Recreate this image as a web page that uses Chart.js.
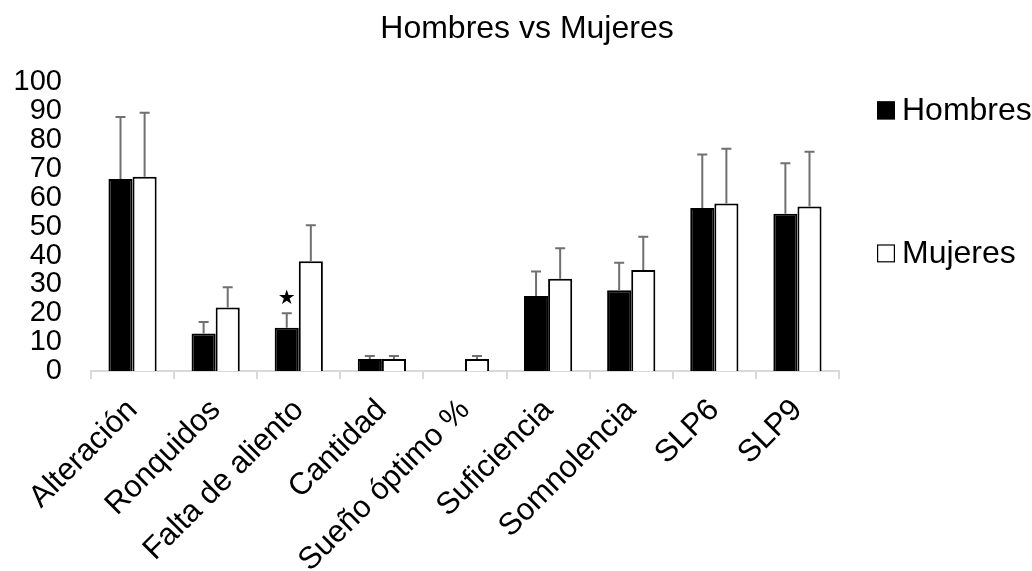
<!DOCTYPE html>
<html>
<head>
<meta charset="utf-8">
<script src="https://cdn.jsdelivr.net/npm/chart.js@4.4.1/dist/chart.umd.min.js"></script>
<style>
  html, body { margin: 0; padding: 0; background: #fff; }
  canvas { display: block; }
</style>
</head>
<body>
<canvas id="chart" width="1032" height="571"></canvas>
<script>
// Categories and series (means with upper standard deviation)
const categories = ['Alteración', 'Ronquidos', 'Falta de aliento', 'Cantidad', 'Sueño óptimo %',
                    'Suficiencia', 'Somnolencia', 'SLP6', 'SLP9'];
const hombres   = [66.5, 13, 15, 4.2, 0, 26, 28, 56.5, 54.5];
const hombresSD = [21.5, 4, 5, 1, 0, 8.5, 9.5, 18.5, 17.5];
const mujeres   = [67.3, 22, 38, 4.2, 4.2, 32, 35, 58, 57];
const mujeresSD = [22.2, 7, 12.5, 1, 1, 10.5, 11.5, 19, 19];
// Significance marks drawn above the Hombres error bar
const marks = ['', '', '★', '', '', '', '', '', ''];
const yTicks = [0, 10, 20, 30, 40, 50, 60, 70, 80, 90, 100];

const FONT = "'Liberation Sans', Arial, Helvetica, sans-serif";

Chart.defaults.font.family = FONT;
Chart.defaults.color = '#000';

// Upward error bars plus significance stars
const errorBars = {
  id: 'errorBars',
  afterDatasetsDraw(chart) {
    const ctx = chart.ctx;
    const y = chart.scales.y;
    const sds = [hombresSD, mujeresSD];
    ctx.save();
    ctx.strokeStyle = '#707070';
    ctx.lineWidth = 2;
    chart.data.datasets.forEach((ds, i) => {
      chart.getDatasetMeta(i).data.forEach((bar, j) => {
        const sd = sds[i][j];
        if (!sd) return;
        const base = y.getPixelForValue(ds.data[j]);
        const top = y.getPixelForValue(ds.data[j] + sd);
        ctx.beginPath();
        ctx.moveTo(bar.x, base);
        ctx.lineTo(bar.x, top);
        ctx.moveTo(bar.x - 5, top);
        ctx.lineTo(bar.x + 5, top);
        ctx.stroke();
      });
    });
    ctx.fillStyle = '#000';
    ctx.font = "20px 'DejaVu Sans', sans-serif";
    ctx.textAlign = 'center';
    ctx.textBaseline = 'middle';
    chart.getDatasetMeta(0).data.forEach((bar, j) => {
      if (!marks[j]) return;
      const top = y.getPixelForValue(hombres[j] + hombresSD[j]);
      ctx.fillText(marks[j], bar.x, top - 14);
    });
    ctx.restore();
  }
};

// Legend drawn at the right side of the plot
const sideLegend = {
  id: 'sideLegend',
  afterDraw(chart) {
    const ctx = chart.ctx;
    const area = chart.chartArea;
    const x0 = area.right + 38;
    const rows = [area.top + 28, area.top + 171];
    ctx.save();
    ctx.font = '32px ' + FONT;
    ctx.textBaseline = 'middle';
    ctx.textAlign = 'left';
    chart.data.datasets.forEach((ds, i) => {
      const cy = rows[i];
      ctx.fillStyle = ds.backgroundColor;
      ctx.fillRect(x0, cy - 9, 18, 18);
      ctx.strokeStyle = '#000';
      ctx.lineWidth = 1.2;
      ctx.strokeRect(x0 + 0.6, cy - 8.4, 16.8, 16.8);
      ctx.fillStyle = '#000';
      ctx.fillText(ds.label, x0 + 25, cy + 1);
    });
    ctx.restore();
  }
};

new Chart(document.getElementById('chart'), {
  type: 'bar',
  data: {
    labels: categories,
    datasets: [
      { label: 'Hombres', data: hombres, backgroundColor: '#000', borderColor: '#000', borderWidth: 2 },
      { label: 'Mujeres', data: mujeres, backgroundColor: '#fff', borderColor: '#000', borderWidth: 2 }
    ]
  },
  options: {
    responsive: false,
    animation: false,
    events: [],
    categoryPercentage: 0.58,
    barPercentage: 1,
    // the title block reaches a little past the right edge so its text sits right of centre
    layout: { padding: { left: 0, right: -22, top: 0, bottom: 0 } },
    plugins: {
      legend: { display: false },
      tooltip: { enabled: false },
      title: {
        display: true,
        text: 'Hombres vs Mujeres',
        font: { size: 32, weight: 'normal', lineHeight: 1.2 },
        color: '#000',
        padding: { top: 10, bottom: 34 }
      }
    },
    scales: {
      x: {
        grid: { display: true, offset: true, drawOnChartArea: false, color: '#d9d9d9', lineWidth: 2, tickLength: 8 },
        border: { display: true, color: '#d9d9d9', width: 2 },
        ticks: { autoSkip: false, minRotation: 45, maxRotation: 45, padding: 13, font: { size: 31 } },
        afterFit(s) { s.height = 200; }
      },
      y: {
        min: 0,
        max: 100,
        afterBuildTicks(s) { s.ticks = yTicks.map(v => ({ value: v })); },
        grid: { display: false, drawTicks: false },
        border: { display: false },
        ticks: { autoSkip: false, padding: 29, font: { size: 29, lineHeight: 1 } },
        afterFit(s) { s.width = 91; }
      },
      // empty right-hand band that holds the legend
      legendSpace: {
        type: 'linear',
        position: 'right',
        grid: { display: false, drawTicks: false },
        border: { display: false },
        ticks: { display: false },
        afterFit(s) { s.width = 215; }
      }
    }
  },
  plugins: [errorBars, sideLegend]
});
</script>
</body>
</html>
